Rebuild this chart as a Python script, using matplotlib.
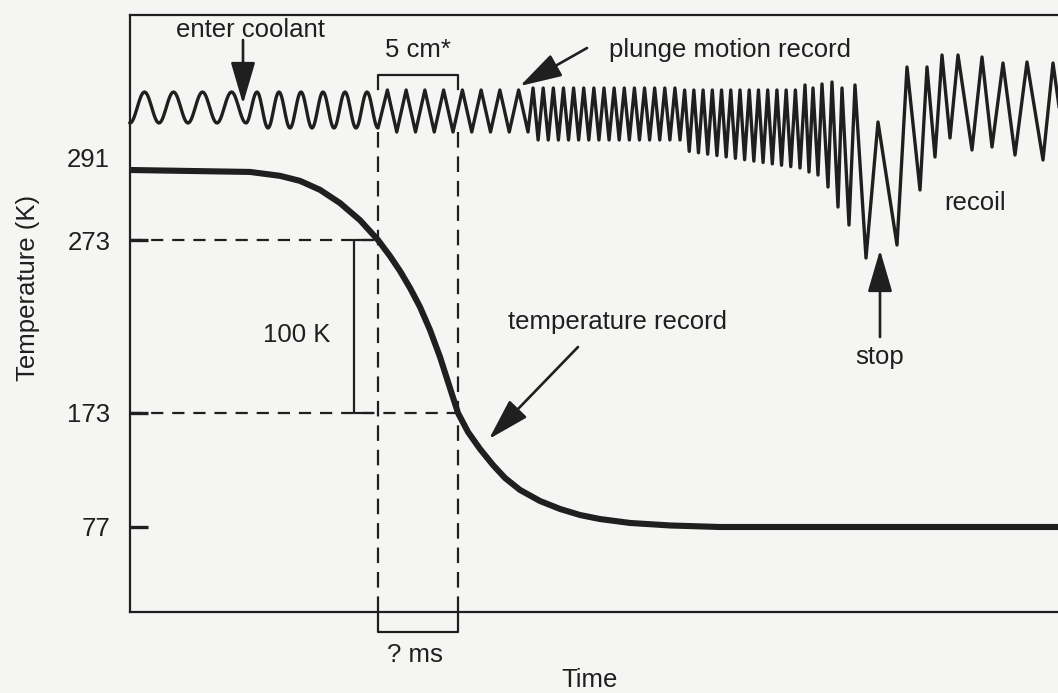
import numpy as np
import matplotlib
matplotlib.use("Agg")
import matplotlib.pyplot as plt

plt.rcParams["font.family"] = ["Liberation Sans", "DejaVu Sans"]
plt.rcParams["font.size"] = 18.5

INK = "#1f1f1f"
PAPER = "#f5f5f3"

# temperature record (time in arbitrary units, kelvin)
temp_time = [0, 12, 15, 17, 19, 21, 23, 24.8, 26, 27, 28, 29, 30, 31, 31.9,
             32.8, 33.8, 35, 36.3, 37.5, 39, 41, 43, 45, 47, 50, 54, 59, 92.8]
temp_kelvin = [291, 290.5, 289.5, 288.2, 285.9, 282.5, 278.1, 273, 263.7,
               255.1, 245.3, 234.3, 221.0, 205.4, 189.2, 173, 157.0, 142.7,
               129.2, 118.3, 108.2, 98.9, 92.2, 87.1, 83.7, 80.4, 78.3, 77, 77]

# temperature axis of the sketch is not linear: marked values and their height
temp_ticks = [77, 173, 273]
temp_knots = [0, 77, 173, 273, 291, 400]
height_knots = [0, 85, 199, 372, 442, 597]

# plunge motion record, regular stretches (deflection in arbitrary units)
run_start = [0.0, 11.6, 24.8, 39.8, 55.0]
run_end = [11.6, 24.8, 39.8, 55.0, 67.0]
run_cycles = [4, 6, 8, 15, 13]
run_peak = [52.0, 52.0, 52.2, 52.4, 52.2]
run_trough_start = [48.9, 48.4, 48.0, 47.2, 46.2]
run_trough_end = [48.9, 48.4, 48.0, 47.2, 44.4]
run_rounded = [True, True, False, False, False]

# stop and recoil, turning points of the trace
stop_time = [67.5, 67.9, 68.3, 68.8, 69.2, 69.8, 70.2, 70.8, 71.2, 71.9, 72.5,
             73.6, 74.8, 76.7, 77.7, 79.0, 79.7, 80.5, 81.2, 82.0, 82.8, 84.2,
             85.2, 86.2, 87.3, 88.5, 89.7, 91.3, 92.3, 93.5]
stop_defl = [52.7, 44.0, 52.4, 43.7, 52.8, 42.5, 53.0, 40.5, 52.4, 38.7, 52.7,
             35.4, 49.0, 36.7, 54.5, 42.2, 54.5, 45.5, 55.7, 47.4, 55.7, 46.2,
             55.5, 46.5, 54.9, 45.7, 55.0, 45.2, 54.9, 46.2]


def temp_forward(t):
    return np.interp(t, temp_knots, height_knots)


def temp_inverse(h):
    return np.interp(h, height_knots, temp_knots)


# build the plunge trace from the runs and the stop section
trace_t, trace_d, trace_round = [], [], []
for i in range(len(run_start)):
    k = np.arange(2 * run_cycles[i] + 1)
    t = run_start[i] + (run_end[i] - run_start[i]) * k / (2 * run_cycles[i])
    frac = (t - run_start[i]) / (run_end[i] - run_start[i])
    trough = run_trough_start[i] + (run_trough_end[i] - run_trough_start[i]) * frac
    d = np.where(k % 2 == 0, trough, run_peak[i])
    if trace_t:
        t, d = t[1:], d[1:]
    trace_t.extend(t)
    trace_d.extend(d)
    trace_round.extend([run_rounded[i]] * len(t))
trace_t.extend(stop_time)
trace_d.extend(stop_defl)
trace_round.extend([False] * len(stop_time))

xs, ys = [trace_t[0]], [trace_d[0]]
for i in range(len(trace_t) - 1):
    if trace_round[i + 1]:
        s = np.linspace(0, 1, 14)[1:]
        xs.extend(trace_t[i] + (trace_t[i + 1] - trace_t[i]) * s)
        ys.extend(trace_d[i] + (trace_d[i + 1] - trace_d[i]) * (1 - np.cos(np.pi * s)) / 2)
    else:
        xs.append(trace_t[i + 1])
        ys.append(trace_d[i + 1])

fig = plt.figure(figsize=(10.58, 6.93), dpi=100, facecolor=PAPER)
rect = [130 / 1058, 81 / 693, 928 / 1058, 597 / 693]
ax = fig.add_axes(rect)
ax.set_facecolor("none")
ax.set_yscale("function", functions=(temp_forward, temp_inverse))
ax.set_ylim(0, 400)
ax.set_xlim(0, 92.8)

ax.plot(temp_time, temp_kelvin, color=INK, lw=4.4, solid_capstyle="butt",
        solid_joinstyle="round", zorder=3)

t273 = np.interp(273, temp_kelvin[::-1], temp_time[::-1])
t173 = np.interp(173, temp_kelvin[::-1], temp_time[::-1])
ax.hlines([273], 0, t273, colors=INK, lw=1.6, linestyles=(0, (5.5, 4)))
ax.hlines([173], 0, t173, colors=INK, lw=1.6, linestyles=(0, (5.5, 4)))
ax.plot([24.2, 22.4, 22.4, 24.2], [273, 273, 173, 173], color=INK, lw=1.6)
ax.text(16.7, 218, "100 K", ha="center", va="center", color=INK)

ax.set_xticks([])
ax.set_yticks(temp_ticks)
ax.set_yticklabels([str(v) for v in temp_ticks])
ax.tick_params(axis="y", direction="in", length=13, width=2.4, pad=14,
               colors=INK)
for side in ["left", "top", "bottom"]:
    ax.spines[side].set_linewidth(1.6)
    ax.spines[side].set_color(INK)
ax.spines["right"].set_visible(False)
ax.annotate("291", xy=(0, 291), xycoords=("axes fraction", "data"),
            xytext=(-14.5, 7), textcoords="offset points",
            ha="right", va="center", color=INK)

# overlay for the plunge motion record and the notes
ax2 = fig.add_axes(rect)
ax2.set_axis_off()
ax2.set_xlim(0, 92.8)
ax2.set_ylim(0, 59.7)
ax2.plot(xs, ys, color=INK, lw=2.4, solid_joinstyle="round", clip_on=False)

ax2.vlines([t273, t173], 0, 48.2, colors=INK, lw=1.6, linestyles=(0, (7, 4)))
ax2.plot([t273, t273, t173, t173], [0, -2.0, -2.0, 0], color=INK, lw=1.6,
         clip_on=False)
ax2.plot([t273, t273, t173, t173], [52.3, 53.7, 53.7, 52.3], color=INK, lw=1.6)
ax2.text((t273 + t173) / 2, 56.2, "5 cm*", ha="center", va="center", color=INK)
ax2.text(28.5, -4.3, "? ms", ha="center", va="center", color=INK, clip_on=False)

arrow = dict(arrowstyle="-|>,head_length=1.3,head_width=0.38", color=INK,
             lw=1.9, mutation_scale=20, shrinkA=0, shrinkB=0)
ax2.text(12.0, 58.2, "enter coolant", ha="center", va="center", color=INK)
ax2.annotate("", xy=(11.3, 50.8), xytext=(11.3, 57.2), arrowprops=arrow)
ax2.text(60.0, 56.2, "plunge motion record", ha="center", va="center", color=INK)
ax2.annotate("", xy=(39.0, 52.6), xytext=(45.7, 56.4), arrowprops=arrow)
ax2.text(48.8, 29.0, "temperature record", ha="center", va="center", color=INK)
ax2.annotate("", xy=(35.9, 17.3), xytext=(44.8, 26.5), arrowprops=arrow)
ax2.text(75.0, 25.5, "stop", ha="center", va="center", color=INK)
ax2.annotate("", xy=(75.0, 36.2), xytext=(75.0, 27.5), arrowprops=arrow)
ax2.text(84.5, 40.9, "recoil", ha="center", va="center", color=INK)

fig.text(590 / 1058, 1 - 680 / 693, "Time", ha="center", va="center", color=INK)
fig.text(28 / 1058, 1 - 288 / 693, "Temperature (K)", rotation=90,
         ha="center", va="center", color=INK)

fig.savefig("out.png", dpi=100, facecolor=PAPER)
